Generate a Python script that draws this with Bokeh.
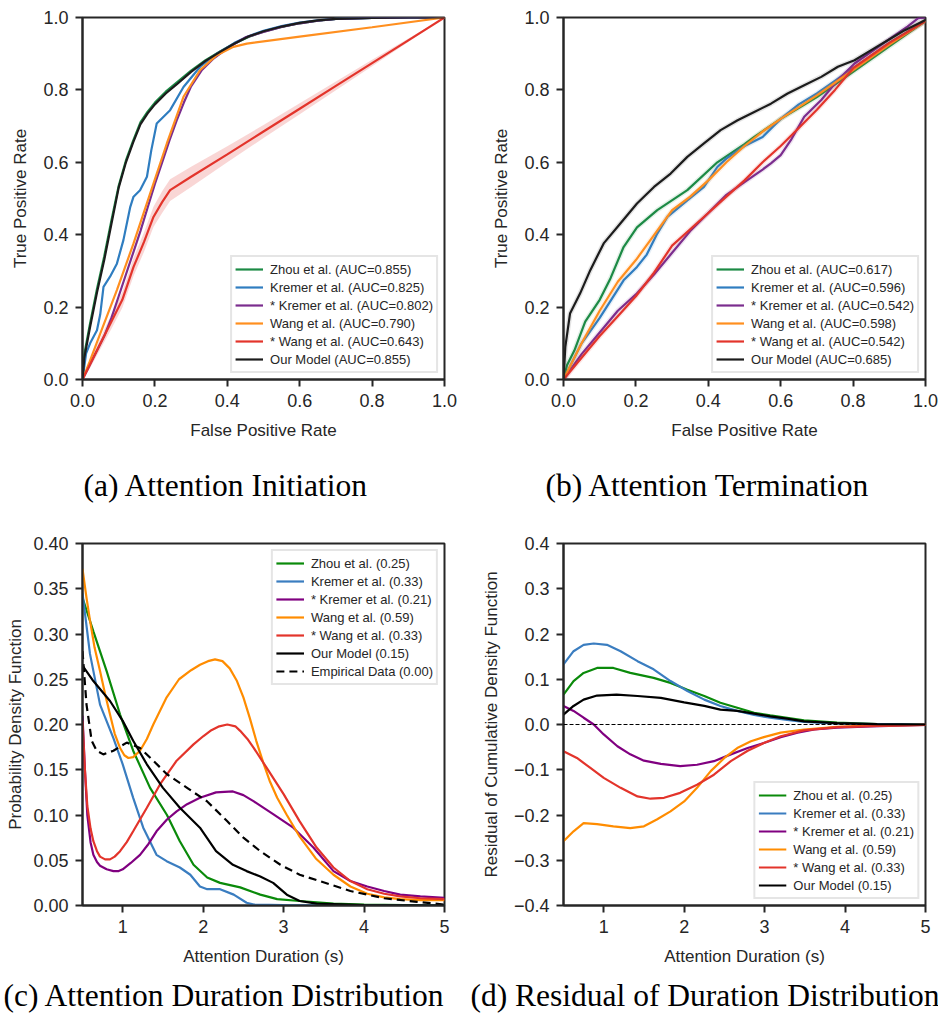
from bokeh.plotting import figure
from bokeh.models import (Legend, LegendItem, Title, FixedTicker, CustomJSTickFormatter,
                          Range1d, Span)
from bokeh.layouts import column, row
from bokeh.embed import file_html
from bokeh.resources import INLINE

# ---------------- data: (a) Attention Initiation (ROC) ----------------
labels_a = ["Zhou et al. (AUC=0.855)", "Kremer et al. (AUC=0.825)", "* Kremer et al. (AUC=0.802)",
            "Wang et al. (AUC=0.790)", "* Wang et al. (AUC=0.643)", "Our Model (AUC=0.855)"]
zhou_a_x = [0, 0.005, 0.02, 0.04, 0.06, 0.08, 0.10, 0.12, 0.14, 0.16, 0.18, 0.20, 0.23, 0.26, 0.30,
            0.34, 0.38, 0.42, 0.46, 0.50, 0.55, 0.60, 0.65, 0.70, 0.80, 0.90, 1.0]
zhou_a_y = [0, 0.07, 0.15, 0.25, 0.34, 0.44, 0.535, 0.605, 0.66, 0.71, 0.74, 0.765, 0.795, 0.82, 0.853,
            0.882, 0.906, 0.928, 0.947, 0.961, 0.974, 0.984, 0.991, 0.996, 0.999, 1.0, 1.0]
kremer_a_x = [0, 0.01, 0.021, 0.04, 0.049, 0.058, 0.076, 0.095, 0.113, 0.132, 0.141, 0.159, 0.178, 0.19,
              0.205, 0.242, 0.279, 0.325, 0.371, 0.42, 0.46, 0.50, 0.55, 0.60, 0.65, 0.70, 0.80, 0.90, 1.0]
kremer_a_y = [0, 0.072, 0.10, 0.136, 0.18, 0.256, 0.284, 0.32, 0.385, 0.477, 0.505, 0.523, 0.56, 0.633,
              0.707, 0.744, 0.808, 0.864, 0.90, 0.93, 0.949, 0.963, 0.976, 0.986, 0.992, 0.996, 0.999, 1.0, 1.0]
kremer2_a_x = [0, 0.02, 0.04, 0.06, 0.08, 0.10, 0.12, 0.14, 0.16, 0.18, 0.20, 0.22, 0.24, 0.26, 0.28,
               0.30, 0.33, 0.36, 0.40, 0.45, 0.50, 0.55, 0.60, 0.65, 0.70, 0.80, 0.90, 1.0]
kremer2_a_y = [0, 0.04, 0.08, 0.12, 0.17, 0.23, 0.29, 0.35, 0.41, 0.475, 0.54, 0.60, 0.66, 0.715, 0.765,
               0.81, 0.855, 0.885, 0.915, 0.945, 0.96, 0.974, 0.984, 0.991, 0.996, 0.999, 1.0, 1.0]
wang_a_x = [0, 0.02, 0.049, 0.095, 0.141, 0.187, 0.233, 0.279, 0.325, 0.371, 0.417, 0.454, 0.6, 0.8, 1.0]
wang_a_y = [0, 0.05, 0.127, 0.247, 0.376, 0.514, 0.652, 0.781, 0.855, 0.896, 0.919, 0.928, 0.947, 0.973, 1.0]
wang2_a_x = [0, 0.02, 0.05, 0.08, 0.11, 0.141, 0.17, 0.196, 0.22, 0.242, 0.3, 0.4, 0.5, 0.6, 0.7, 0.8, 0.9, 1.0]
wang2_a_y = [0, 0.04, 0.1, 0.16, 0.22, 0.311, 0.38, 0.449, 0.49, 0.523, 0.56, 0.622, 0.685, 0.748, 0.811,
             0.874, 0.937, 1.0]
wang2_a_band = [0, 0.01, 0.015, 0.02, 0.022, 0.025, 0.027, 0.028, 0.03, 0.03, 0.028, 0.022, 0.018, 0.015,
                0.012, 0.009, 0.005, 0]
ours_a_x = zhou_a_x
ours_a_y = [0, 0.06, 0.14, 0.24, 0.33, 0.43, 0.53, 0.60, 0.655, 0.705, 0.735, 0.76, 0.79, 0.815, 0.85,
            0.88, 0.905, 0.928, 0.948, 0.962, 0.975, 0.985, 0.992, 0.996, 0.999, 1.0, 1.0]

# ---------------- data: (b) Attention Termination (ROC) ----------------
labels_b = ["Zhou et al. (AUC=0.617)", "Kremer et al. (AUC=0.596)", "* Kremer et al. (AUC=0.542)",
            "Wang et al. (AUC=0.598)", "* Wang et al. (AUC=0.542)", "Our Model (AUC=0.685)"]
zhou_b_x = [0, 0.01, 0.03, 0.06, 0.1, 0.13, 0.166, 0.203, 0.259, 0.342, 0.425, 0.5, 0.527, 0.6, 0.7, 0.8, 0.9, 1.0]
zhou_b_y = [0, 0.04, 0.08, 0.16, 0.22, 0.28, 0.366, 0.42, 0.468, 0.523, 0.6, 0.65, 0.67, 0.72, 0.78, 0.85, 0.92, 0.99]
kremer_b_x = [0, 0.05, 0.1, 0.166, 0.203, 0.23, 0.259, 0.287, 0.342, 0.388, 0.425, 0.45, 0.5, 0.55, 0.6,
              0.65, 0.7, 0.8, 0.9, 1.0]
kremer_b_y = [0, 0.1, 0.17, 0.274, 0.311, 0.345, 0.403, 0.449, 0.495, 0.532, 0.587, 0.61, 0.645, 0.67, 0.72,
              0.76, 0.79, 0.86, 0.93, 0.99]
kremer2_b_x = [0, 0.05, 0.1, 0.15, 0.2, 0.25, 0.3, 0.35, 0.4, 0.45, 0.5, 0.55, 0.573, 0.6, 0.628, 0.665,
               0.712, 0.758, 0.804, 0.85, 0.9, 0.95, 0.98, 1.0]
kremer2_b_y = [0, 0.07, 0.13, 0.19, 0.235, 0.29, 0.35, 0.41, 0.46, 0.51, 0.545, 0.58, 0.597, 0.62, 0.661,
               0.726, 0.772, 0.827, 0.873, 0.905, 0.94, 0.975, 0.998, 1.0]
wang_b_x = [0, 0.05, 0.1, 0.15, 0.2, 0.24, 0.28, 0.3, 0.35, 0.4, 0.45, 0.5, 0.55, 0.6, 0.7, 0.8, 0.9, 1.0]
wang_b_y = [0, 0.1, 0.19, 0.27, 0.33, 0.385, 0.44, 0.468, 0.505, 0.55, 0.6, 0.645, 0.685, 0.72, 0.785,
            0.855, 0.925, 0.99]
wang2_b_x = [0, 0.05, 0.1, 0.15, 0.2, 0.25, 0.3, 0.35, 0.4, 0.45, 0.5, 0.55, 0.6, 0.65, 0.7, 0.75, 0.8,
             0.85, 0.9, 0.95, 1.0]
wang2_b_y = [0, 0.06, 0.12, 0.175, 0.23, 0.295, 0.37, 0.415, 0.46, 0.505, 0.55, 0.6, 0.645, 0.695, 0.745,
             0.8, 0.86, 0.895, 0.93, 0.96, 0.99]
ours_b_x = [0, 0.005, 0.018, 0.046, 0.074, 0.111, 0.157, 0.203, 0.25, 0.296, 0.342, 0.388, 0.434, 0.481,
            0.527, 0.573, 0.619, 0.665, 0.712, 0.758, 0.804, 0.85, 0.896, 0.943, 1.0]
ours_b_y = [0, 0.09, 0.182, 0.238, 0.302, 0.376, 0.431, 0.486, 0.532, 0.569, 0.615, 0.652, 0.689, 0.716,
            0.739, 0.762, 0.79, 0.813, 0.836, 0.864, 0.882, 0.91, 0.937, 0.965, 0.993]

# ---------------- data: (c) Attention Duration Distribution (PDF) ----------------
labels_c = ["Zhou et al. (0.25)", "Kremer et al. (0.33)", "* Kremer et al. (0.21)", "Wang et al. (0.59)",
            "* Wang et al. (0.33)", "Our Model (0.15)", "Empirical Data (0.00)"]
zhou_c_x = [0.5, 0.635, 0.8, 0.967, 1.13, 1.34, 1.55, 1.71, 1.88, 2.05, 2.21, 2.46, 2.71, 2.92, 3.2, 3.62, 4.0, 5.0]
zhou_c_y = [0.34, 0.303, 0.259, 0.211, 0.171, 0.13, 0.1, 0.071, 0.045, 0.031, 0.025, 0.02, 0.012, 0.007,
            0.005, 0.002, 0.001, 0.0]
kremer_c_x = [0.5, 0.593, 0.718, 0.884, 1.0, 1.13, 1.255, 1.42, 1.546, 1.71, 1.84, 1.96, 2.05, 2.21, 2.38,
              2.54, 2.63, 3.0, 4.0, 5.0]
kremer_c_y = [0.345, 0.278, 0.222, 0.185, 0.156, 0.119, 0.086, 0.056, 0.049, 0.042, 0.034, 0.021, 0.018,
              0.018, 0.012, 0.003, 0.001, 0.0005, 0.0, 0.0]
kremer2_c_x = [0.5, 0.53, 0.56, 0.6, 0.635, 0.68, 0.718, 0.8, 0.884, 0.95, 1.0, 1.1, 1.215, 1.32, 1.42,
               1.55, 1.67, 1.8, 1.96, 2.16, 2.37, 2.5, 2.63, 2.87, 3.12, 3.37, 3.62, 3.83, 4.04, 4.25,
               4.45, 4.7, 5.0]
kremer2_c_y = [0.21, 0.15, 0.1, 0.07, 0.056, 0.048, 0.044, 0.04, 0.038, 0.038, 0.04, 0.047, 0.056, 0.068,
               0.082, 0.095, 0.104, 0.112, 0.119, 0.125, 0.126, 0.122, 0.115, 0.101, 0.086, 0.064, 0.038,
               0.027, 0.021, 0.016, 0.012, 0.01, 0.0085]
wang_c_x = [0.5, 0.55, 0.593, 0.65, 0.718, 0.78, 0.842, 0.9, 0.967, 1.02, 1.07, 1.13, 1.215, 1.3, 1.38,
            1.546, 1.7, 1.85, 1.961, 2.06, 2.148, 2.24, 2.33, 2.42, 2.5, 2.58, 2.66, 2.75, 2.83, 2.92,
            3.04, 3.2, 3.4, 3.62, 3.83, 4.04, 4.25, 4.45, 4.7, 5.0]
wang_c_y = [0.372, 0.34, 0.315, 0.285, 0.259, 0.234, 0.211, 0.19, 0.174, 0.166, 0.163, 0.164, 0.171, 0.184,
            0.2, 0.23, 0.25, 0.26, 0.266, 0.27, 0.272, 0.27, 0.262, 0.248, 0.23, 0.207, 0.182, 0.157, 0.137,
            0.119, 0.1, 0.076, 0.052, 0.034, 0.021, 0.013, 0.009, 0.007, 0.006, 0.006]
wang2_c_x = [0.5, 0.53, 0.56, 0.6, 0.635, 0.68, 0.718, 0.78, 0.842, 0.9, 0.967, 1.05, 1.13, 1.3, 1.465,
             1.67, 1.88, 2.0, 2.09, 2.2, 2.3, 2.4, 2.46, 2.55, 2.63, 2.79, 3.0, 3.2, 3.41, 3.62, 3.83,
             4.04, 4.25, 4.45, 4.7, 5.0]
wang2_c_y = [0.204, 0.15, 0.11, 0.085, 0.071, 0.06, 0.054, 0.051, 0.051, 0.054, 0.06, 0.07, 0.082, 0.108,
             0.134, 0.16, 0.178, 0.187, 0.193, 0.198, 0.2, 0.198, 0.193, 0.184, 0.174, 0.152, 0.123, 0.093,
             0.064, 0.042, 0.027, 0.018, 0.013, 0.01, 0.008, 0.007]
ours_c_x = [0.5, 0.635, 0.842, 1.0, 1.13, 1.3, 1.5, 1.71, 1.96, 2.16, 2.37, 2.54, 2.71, 2.87, 3.04, 3.2,
            3.41, 4.0, 5.0]
ours_c_y = [0.265, 0.248, 0.226, 0.204, 0.182, 0.156, 0.13, 0.108, 0.086, 0.06, 0.045, 0.038, 0.032, 0.025,
            0.012, 0.005, 0.002, 0.0005, 0.0]
emp_c_x = [0.5, 0.55, 0.614, 0.676, 0.759, 0.884, 1.05, 1.215, 1.38, 1.55, 1.8, 2.05, 2.3, 2.5, 2.71, 2.96,
           3.2, 3.45, 3.83, 4.25, 4.66, 5.0]
emp_c_y = [0.281, 0.222, 0.182, 0.171, 0.167, 0.171, 0.18, 0.174, 0.16, 0.145, 0.13, 0.115, 0.093, 0.075,
           0.06, 0.045, 0.034, 0.027, 0.016, 0.008, 0.004, 0.001]

# ---------------- data: (d) Residual of Duration Distribution (CDF residual) ----------------
labels_d = labels_c[:6]
zhou_d_x = [0.5, 0.625, 0.75, 0.917, 1.12, 1.33, 1.62, 1.83, 2.04, 2.25, 2.45, 2.66, 2.87, 3.07, 3.49, 3.9, 4.4, 5.0]
zhou_d_y = [0.066, 0.096, 0.114, 0.125, 0.125, 0.114, 0.103, 0.092, 0.077, 0.063, 0.048, 0.037, 0.026, 0.02,
            0.009, 0.004, 0.001, 0.0]
kremer_d_x = [0.5, 0.625, 0.75, 0.876, 1.04, 1.21, 1.42, 1.62, 1.83, 2.04, 2.25, 2.45, 2.66, 2.87, 3.07,
              3.28, 3.49, 3.9, 4.4, 5.0]
kremer_d_y = [0.133, 0.162, 0.176, 0.179, 0.176, 0.162, 0.14, 0.122, 0.096, 0.074, 0.055, 0.041, 0.03,
              0.021, 0.015, 0.01, 0.006, 0.002, 0.001, 0.0]
kremer2_d_x = [0.5, 0.625, 0.75, 0.876, 1.0, 1.17, 1.33, 1.5, 1.71, 1.95, 2.16, 2.37, 2.58, 2.79, 2.99, 3.2,
               3.41, 3.62, 3.9, 4.32, 5.0]
kremer2_d_y = [0.041, 0.03, 0.015, 0.0, -0.022, -0.048, -0.066, -0.08, -0.087, -0.092, -0.089, -0.081,
               -0.066, -0.052, -0.041, -0.028, -0.018, -0.011, -0.007, -0.004, -0.001]
wang_d_x = [0.5, 0.625, 0.75, 0.917, 1.12, 1.33, 1.5, 1.66, 1.83, 2.0, 2.16, 2.33, 2.5, 2.66, 2.83, 2.99,
            3.2, 3.49, 3.9, 4.4, 5.0]
wang_d_y = [-0.258, -0.236, -0.218, -0.22, -0.225, -0.229, -0.225, -0.21, -0.192, -0.17, -0.14, -0.103,
            -0.074, -0.052, -0.037, -0.028, -0.018, -0.011, -0.005, -0.002, -0.001]
wang2_d_x = [0.5, 0.667, 0.834, 1.0, 1.21, 1.42, 1.58, 1.75, 1.95, 2.16, 2.37, 2.58, 2.79, 2.99, 3.2, 3.49,
             3.9, 4.4, 5.0]
wang2_d_y = [-0.059, -0.074, -0.096, -0.118, -0.14, -0.159, -0.164, -0.162, -0.151, -0.133, -0.111, -0.081,
             -0.058, -0.041, -0.026, -0.013, -0.006, -0.003, -0.001]
ours_d_x = [0.5, 0.625, 0.75, 0.917, 1.16, 1.42, 1.71, 2.0, 2.25, 2.45, 2.66, 2.87, 3.07, 3.28, 3.49, 3.9, 4.4, 5.0]
ours_d_y = [0.022, 0.041, 0.055, 0.064, 0.066, 0.063, 0.059, 0.049, 0.041, 0.033, 0.03, 0.024, 0.018,
            0.013, 0.007, 0.003, 0.001, 0.0]

# ---------------- ticks / captions ----------------
roc_ticks = [0.0, 0.2, 0.4, 0.6, 0.8, 1.0]
dur_ticks = [1, 2, 3, 4, 5]
pdf_ticks = [0.0, 0.05, 0.10, 0.15, 0.20, 0.25, 0.30, 0.35, 0.40]
res_ticks = [-0.4, -0.3, -0.2, -0.1, 0.0, 0.1, 0.2, 0.3, 0.4]
captions = ["(a) Attention Initiation", "(b) Attention Termination",
            "(c) Attention Duration Distribution", "(d) Residual of Duration Distribution"]

colors_ab = ["#1c8a45", "#2f7dc0", "#7b2d8e", "#ff8f1f", "#e3342b", "#1c1c1c"]
colors_cd = ["#0a8a0a", "#3a7dc0", "#800080", "#ff8c00", "#e3342b", "#000000"]

SANS = "Liberation Sans"
SERIF = "Liberation Serif"
INK = "#262626"


def fmt(decimals):
    return CustomJSTickFormatter(code="return tick.toFixed(%d).replace('-', '\u2212');" % decimals)


def make_fig(width, height, left, right, top, bottom, xr, yr, xticks, yticks, xdec, ydec,
             xlabel, ylabel, ylab_standoff):
    p = figure(width=width, height=height, x_range=Range1d(*xr), y_range=Range1d(*yr),
               output_backend="svg", toolbar_location=None, tools="",
               min_border_left=left, min_border_right=right, min_border_top=top,
               min_border_bottom=bottom)
    p.grid.visible = False
    p.outline_line_color = INK
    p.outline_line_width = 2
    p.outline_line_alpha = 1
    p.background_fill_color = "white"
    p.border_fill_color = "white"
    p.xaxis.ticker = FixedTicker(ticks=xticks)
    p.yaxis.ticker = FixedTicker(ticks=yticks)
    p.xaxis.formatter = fmt(xdec)
    p.yaxis.formatter = fmt(ydec)
    p.xaxis.axis_label = xlabel
    p.yaxis.axis_label = ylabel
    for ax in p.axis:
        ax.axis_line_color = INK
        ax.axis_line_width = 2
        ax.major_tick_line_color = INK
        ax.major_tick_line_width = 2
        ax.major_tick_out = 7
        ax.major_tick_in = 0
        ax.minor_tick_line_color = None
        ax.major_label_text_font = SANS
        ax.major_label_text_font_size = "18px"
        ax.major_label_text_color = INK
        ax.major_label_standoff = 7
        ax.axis_label_text_font = SANS
        ax.axis_label_text_font_size = "17px"
        ax.axis_label_text_font_style = "normal"
        ax.axis_label_text_color = INK
    p.xaxis.axis_label_standoff = 11
    p.yaxis.axis_label_standoff = ylab_standoff
    return p


def add_legend(p, items, location):
    lg = Legend(items=items, location=location)
    lg.label_text_font = SANS
    lg.label_text_font_size = "13px"
    lg.label_text_color = INK
    lg.glyph_width = 28
    lg.glyph_height = 18
    lg.label_height = 18
    lg.label_standoff = 7
    lg.spacing = 0
    lg.padding = 3
    lg.margin = 6
    lg.border_line_color = "#cccccc"
    lg.border_line_width = 2
    lg.background_fill_color = "white"
    lg.background_fill_alpha = 0.85
    p.add_layout(lg)


def add_caption(p, text, offset, standoff):
    t = Title(text=text, align="left", offset=offset, standoff=standoff, text_font=SERIF,
              text_font_size="31.5px", text_font_style="normal", text_color="black")
    p.add_layout(t, "below")


# ---------------- (a) ----------------
pa = make_fig(469, 532, 82, 25, 17, 153, (0, 1), (0, 1), roc_ticks, roc_ticks, 1, 1,
              "False Positive Rate", "True Positive Rate", 10)
band_lo = [y - b for y, b in zip(wang2_a_y, wang2_a_band)]
band_hi = [y + b for y, b in zip(wang2_a_y, wang2_a_band)]
pa.varea(x=wang2_a_x, y1=band_lo, y2=band_hi, fill_color=colors_ab[4], fill_alpha=0.2)
series_a = [(zhou_a_x, zhou_a_y), (kremer_a_x, kremer_a_y), (kremer2_a_x, kremer2_a_y),
            (wang_a_x, wang_a_y), (wang2_a_x, wang2_a_y), (ours_a_x, ours_a_y)]
items = []
for (xs, ys), c, lab in zip(series_a, colors_ab, labels_a):
    r = pa.line(xs, ys, line_color=c, line_width=2.2)
    items.append(LegendItem(label=lab, renderers=[r]))
add_legend(pa, items, "bottom_right")
add_caption(pa, captions[0], 1, 47)

# ---------------- (b) ----------------
pb = make_fig(469, 532, 94, 13, 17, 153, (0, 1), (0, 1), roc_ticks, roc_ticks, 1, 1,
              "False Positive Rate", "True Positive Rate", 10)
series_b = [(zhou_b_x, zhou_b_y), (kremer_b_x, kremer_b_y), (kremer2_b_x, kremer2_b_y),
            (wang_b_x, wang_b_y), (wang2_b_x, wang2_b_y), (ours_b_x, ours_b_y)]
items = []
for (xs, ys), c, lab in zip(series_b, colors_ab, labels_b):
    pb.line(xs, ys, line_color=c, line_width=5, line_alpha=0.12)
    r = pb.line(xs, ys, line_color=c, line_width=2.2)
    items.append(LegendItem(label=lab, renderers=[r]))
add_legend(pb, items, "bottom_right")
add_caption(pb, captions[1], -18, 47)

# ---------------- (c) ----------------
pc = make_fig(469, 491, 82, 25, 11, 118, (0.5, 5), (0, 0.4), dur_ticks, pdf_ticks, 0, 2,
              "Attention Duration (s)", "Probability Density Function", 5)
series_c = [(zhou_c_x, zhou_c_y), (kremer_c_x, kremer_c_y), (kremer2_c_x, kremer2_c_y),
            (wang_c_x, wang_c_y), (wang2_c_x, wang2_c_y), (ours_c_x, ours_c_y)]
items = []
for (xs, ys), c, lab in zip(series_c, colors_cd, labels_c):
    r = pc.line(xs, ys, line_color=c, line_width=2.2)
    items.append(LegendItem(label=lab, renderers=[r]))
r = pc.line(emp_c_x, emp_c_y, line_color="black", line_width=2.2, line_dash="8 5")
items.append(LegendItem(label=labels_c[6], renderers=[r]))
add_legend(pc, items, "top_right")
add_caption(pc, captions[2], -79, 14)

# ---------------- (d) ----------------
pd_ = make_fig(469, 491, 94, 13, 11, 118, (0.5, 5), (-0.4, 0.4), dur_ticks, res_ticks, 0, 1,
               "Attention Duration (s)", "Residual of Cumulative Density Function", 10)
pd_.add_layout(Span(location=0, dimension="width", line_color="black", line_width=1, line_dash="4 2"))
series_d = [(zhou_d_x, zhou_d_y), (kremer_d_x, kremer_d_y), (kremer2_d_x, kremer2_d_y),
            (wang_d_x, wang_d_y), (wang2_d_x, wang2_d_y), (ours_d_x, ours_d_y)]
items = []
for (xs, ys), c, lab in zip(series_d, colors_cd, labels_d):
    r = pd_.line(xs, ys, line_color=c, line_width=2.2)
    items.append(LegendItem(label=lab, renderers=[r]))
add_legend(pd_, items, "bottom_right")
add_caption(pd_, captions[3], -93, 14)

layout = column(row(pa, pb), row(pc, pd_))
open("out.html", "w").write(file_html(layout, INLINE))
